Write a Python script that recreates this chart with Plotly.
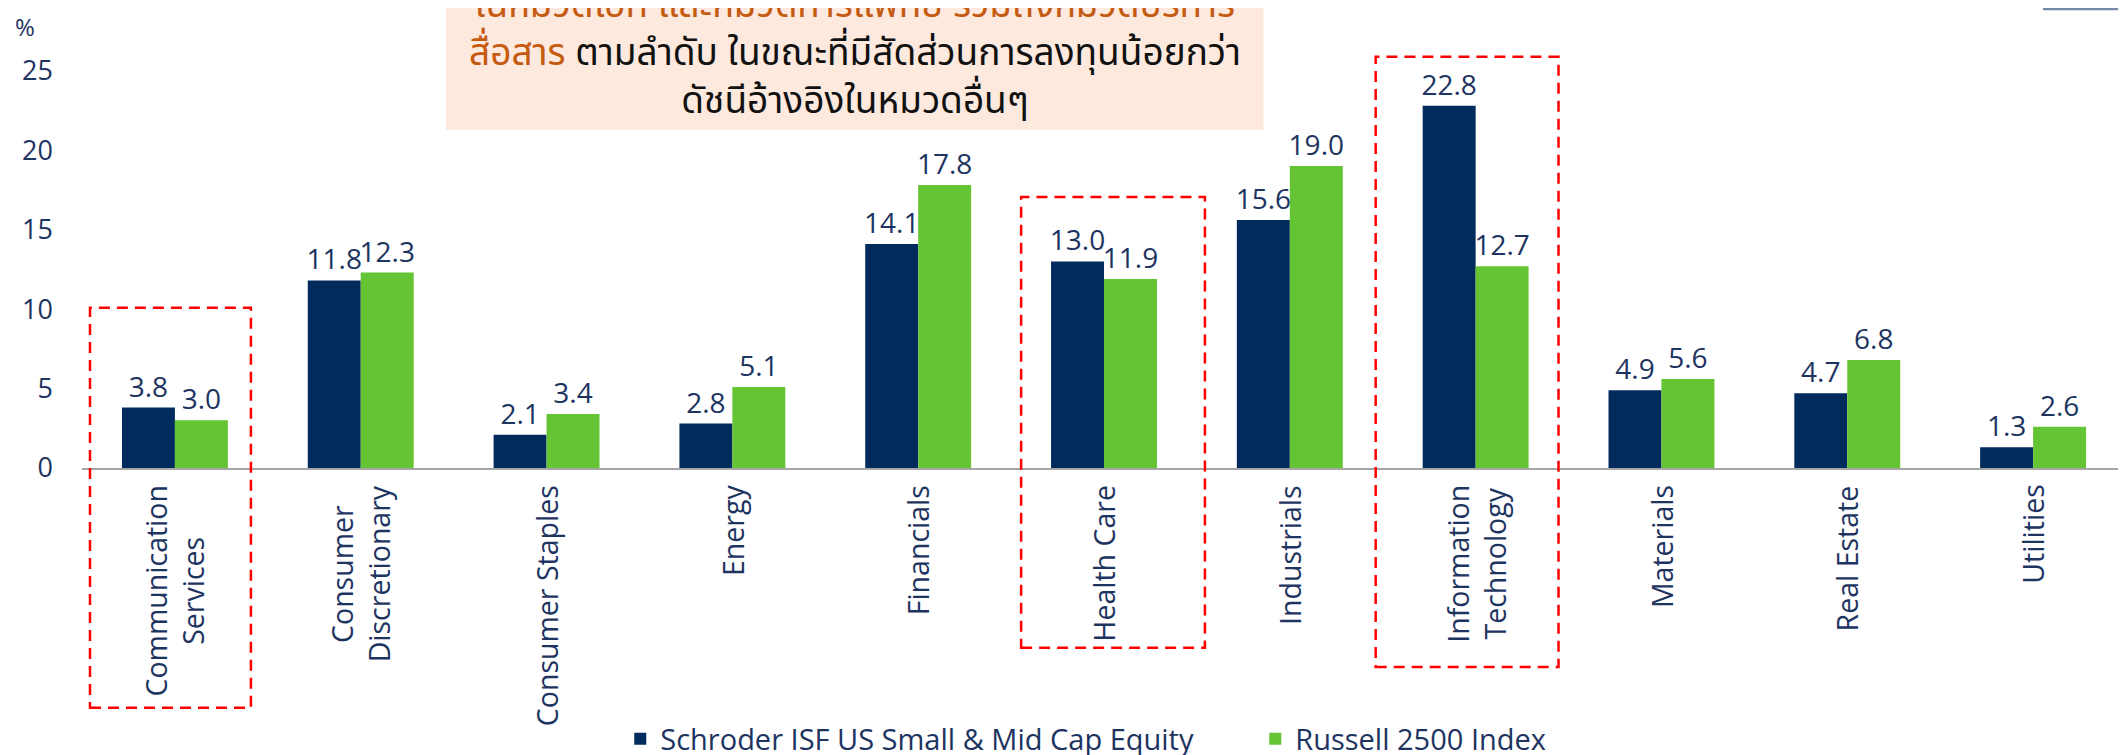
import plotly.graph_objects as go

categories = ["Communication Services", "Consumer Discretionary", "Consumer Staples", "Energy",
              "Financials", "Health Care", "Industrials", "Information Technology",
              "Materials", "Real Estate", "Utilities"]
category_labels = ["Communication<br>Services", "Consumer<br>Discretionary", "Consumer Staples", "Energy",
                   "Financials", "Health Care", "Industrials", "Information<br>Technology",
                   "Materials", "Real Estate", "Utilities"]
fund_name = "Schroder ISF US Small & Mid Cap Equity"
fund_values = [3.8, 11.8, 2.1, 2.8, 14.1, 13.0, 15.6, 22.8, 4.9, 4.7, 1.3]
index_name = "Russell 2500 Index"
index_values = [3.0, 12.3, 3.4, 5.1, 17.8, 11.9, 19.0, 12.7, 5.6, 6.8, 2.6]
y_ticks = [0, 5, 10, 15, 20, 25]
comment_lines = [
    '<span style="color:#c55a11">ในหมวดไอที และหมวดการแพทย์ รวมถึงหมวดบริการ</span>',
    '<span style="color:#c55a11">สื่อสาร</span> ตามลำดับ ในขณะที่มีสัดส่วนการลงทุนน้อยกว่า',
    'ดัชนีอ้างอิงในหมวดอื่นๆ',
]

NAVY = "#002b5c"
GREEN = "#65c433"
TEXT = "#1d3461"
FONT = "Open Sans, Noto Sans, sans-serif"
THAI_FONT = "Noto Sans Thai, Tahoma, Loma, Garuda, sans-serif"

fig = go.Figure()
for name, vals, col in [(fund_name, fund_values, NAVY), (index_name, index_values, GREEN)]:
    fig.add_trace(go.Bar(
        name=name, x=categories, y=vals, marker=dict(color=col, line=dict(width=0)),
        texttemplate="%{y:.1f}", textposition="outside", constraintext="none",
        textfont=dict(size=28, color=TEXT, family=FONT), cliponaxis=False,
    ))

# category labels (centered multi-line, rotated)
for cat, lab in zip(categories, category_labels):
    fig.add_annotation(x=cat, xref="x", y=-0.034, yref="paper", text=lab, showarrow=False,
                       textangle=-90, xanchor="center", yanchor="top", align="center",
                       font=dict(size=28.5, color=TEXT, family=FONT))

# red dashed highlight boxes
red = dict(color="#ff0000", width=2.5, dash="11px,7px")
for x0, x1, y0, y1 in [(-0.457, 0.409, -0.539, 0.360),
                       (4.554, 5.543, -0.404, 0.609),
                       (6.462, 7.446, -0.447, 0.924)]:
    fig.add_shape(type="rect", xref="x", yref="paper", x0=x0, x1=x1, y0=y0, y1=y1,
                  line=red, fillcolor="rgba(0,0,0,0)", layer="above")

# peach comment box
fig.add_shape(type="rect", xref="paper", yref="paper", x0=0.178, x1=0.578, y0=0.7596, y1=1.2,
              fillcolor="#fde9de", line=dict(width=0), layer="below")
fig.add_annotation(xref="paper", yref="paper", x=0.378, y=0.930, showarrow=False,
                   text="<br>".join(comment_lines), align="center",
                   font=dict(size=37, color="#111111", family=THAI_FONT), yanchor="middle")

# top-right frame fragment
fig.add_shape(type="rect", xref="paper", yref="paper", x0=0.960, x1=1.02, y0=1.0315, y1=1.2,
              line=dict(color="#7388a6", width=2.5), fillcolor="rgba(0,0,0,0)")

# % unit label
fig.add_annotation(xref="paper", yref="paper", x=-0.034, y=0.993, xanchor="left", yanchor="middle",
                   text="%", showarrow=False, font=dict(size=24, color=TEXT, family=FONT))

# the page body adds an 8px offset, so the figure is sized 8px smaller
fig.update_layout(
    width=2118, height=747,
    margin=dict(l=74, r=0, t=15, b=287, autoexpand=False),
    paper_bgcolor="white", plot_bgcolor="white",
    barmode="group", bargap=0.43, bargroupgap=0,
    font=dict(family=FONT, color=TEXT),
    showlegend=True,
    legend=dict(orientation="h", xanchor="center", x=0.574, yref="container", y=0.0214,
                yanchor="middle", font=dict(size=29, color=TEXT, family=FONT),
                entrywidth=590, entrywidthmode="pixels", traceorder="normal"),
    xaxis=dict(showticklabels=False, showline=True, linecolor="#a6a6a6", linewidth=2,
               showgrid=False, zeroline=False, ticks="", range=[-0.5, 10.5]),
    yaxis=dict(range=[0, 28], tickvals=y_ticks, showgrid=False, zeroline=False, showline=False,
               ticks="", ticklabelstandoff=28, tickfont=dict(size=27, color=TEXT, family=FONT)),
)

fig.write_html("out.html")
